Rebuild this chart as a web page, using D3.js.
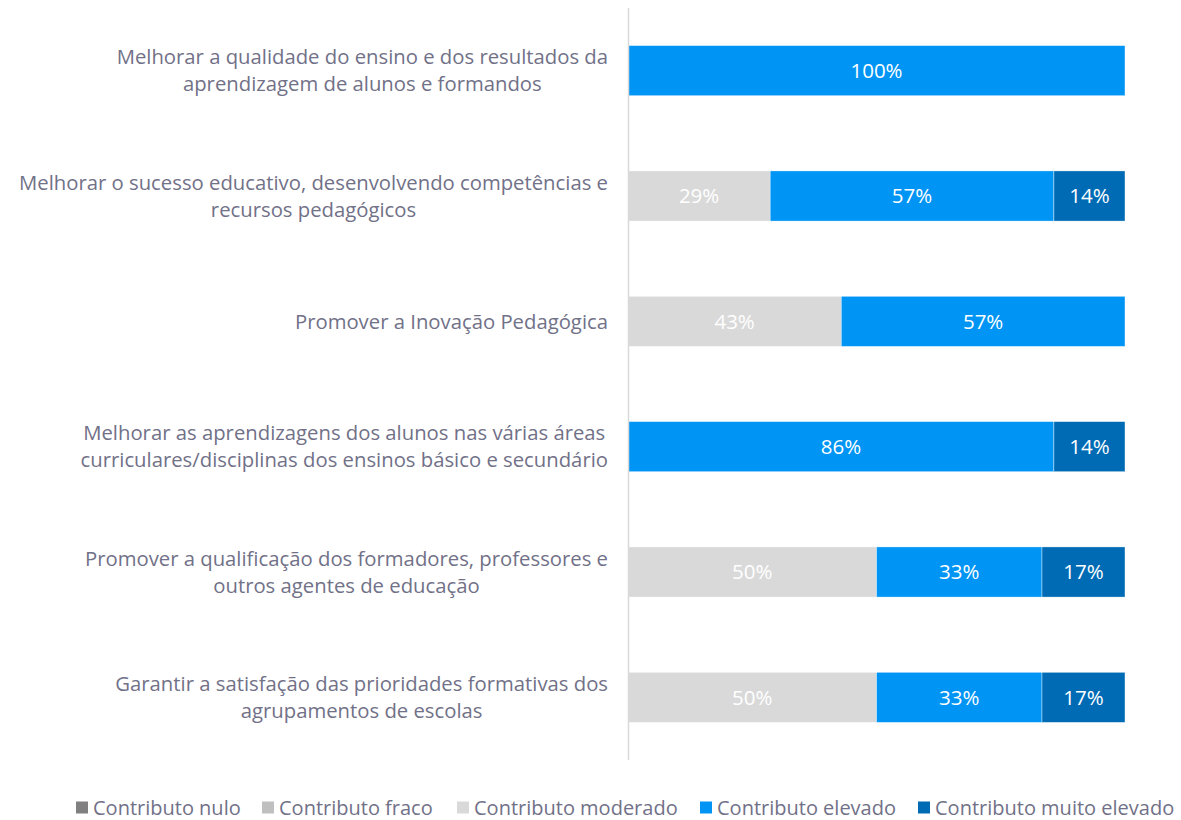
<!DOCTYPE html>
<html>
<head>
<meta charset="utf-8">
<script src="https://cdn.jsdelivr.net/npm/d3@7"></script>
<style>
  body { margin: 0; background: #fff; }
  text { font-family: "Open Sans", sans-serif; }
</style>
</head>
<body>
<svg id="chart" width="1181" height="820"></svg>
<script>
// categories (each label split into its lines)
const categories = [
  ["Melhorar a qualidade do ensino e dos resultados da", "aprendizagem de alunos e formandos"],
  ["Melhorar o sucesso educativo, desenvolvendo competências e", "recursos pedagógicos"],
  ["Promover a Inovação Pedagógica"],
  ["Melhorar as aprendizagens dos alunos nas várias áreas", "curriculares/disciplinas dos ensinos básico e secundário"],
  ["Promover a qualificação dos formadores, professores e", "outros agentes de educação"],
  ["Garantir a satisfação das prioridades formativas dos", "agrupamentos de escolas"]
];

const seriesNames = ["Contributo nulo", "Contributo fraco", "Contributo moderado", "Contributo elevado", "Contributo muito elevado"];
const seriesColors = ["#808080", "#bfbfbf", "#d9d9d9", "#0095f5", "#006bb5"];

// percentages per series, one value per category
const nulo       = [0, 0, 0, 0, 0, 0];
const fraco      = [0, 0, 0, 0, 0, 0];
const moderado   = [0, 28.6, 42.9, 0, 50, 50];
const elevado    = [100, 57.1, 57.1, 85.7, 33.3, 33.3];
const muitoElev  = [0, 14.3, 0, 14.3, 16.7, 16.7];

const svg = d3.select("#chart");

const x = d3.scaleLinear().domain([0, 100]).range([628, 1125]);
const y = d3.scaleBand().domain(d3.range(categories.length)).range([8, 760]).paddingInner(0.6).paddingOuter(0.3);

const rows = categories.map((c, i) => ({
  i: i, nulo: nulo[i], fraco: fraco[i], moderado: moderado[i], elevado: elevado[i], muito: muitoElev[i]
}));
const keys = ["nulo", "fraco", "moderado", "elevado", "muito"];
const stacked = d3.stack().keys(keys)(rows);

// bars
const layer = svg.selectAll("g.layer")
  .data(stacked)
  .enter()
  .append("g")
  .attr("class", "layer")
  .attr("fill", (d, k) => seriesColors[k]);

layer.selectAll("rect")
  .data(d => d.filter(s => s[1] - s[0] > 0))
  .enter()
  .append("rect")
  .attr("x", d => x(d[0]))
  .attr("width", d => x(d[1]) - x(d[0]))
  .attr("y", d => y(d.data.i))
  .attr("height", y.bandwidth())
  .attr("stroke", "#ffffff")
  .attr("stroke-width", 0.4);

// value labels
layer.selectAll("text")
  .data(d => d.filter(s => s[1] - s[0] > 0))
  .enter()
  .append("text")
  .attr("x", d => (x(d[0]) + x(d[1])) / 2)
  .attr("y", d => y(d.data.i) + y.bandwidth() / 2)
  .attr("dy", "0.36em")
  .attr("text-anchor", "middle")
  .attr("fill", "#ffffff")
  .style("font-size", "20.5px")
  .text(d => Math.round(d[1] - d[0]) + "%");

// vertical axis line
svg.append("line")
  .attr("x1", 628.5).attr("x2", 628.5)
  .attr("y1", 8).attr("y2", 760)
  .attr("stroke", "#d9d9d9")
  .attr("stroke-width", 1.5);

// category labels: lines centred on each other, block right-aligned at 608
const labelColor = "#717188";
categories.forEach((lines, i) => {
  const g = svg.append("g");
  const lh = 27;
  const cy = y(i) + y.bandwidth() / 2;
  const texts = lines.map((l, j) => g.append("text")
    .attr("y", cy + (j - (lines.length - 1) / 2) * lh)
    .attr("dy", "0.36em")
    .attr("text-anchor", "middle")
    .attr("fill", labelColor)
    .style("font-size", "20.3px")
    .text(l));
  const maxW = d3.max(texts, t => t.node().getComputedTextLength());
  texts.forEach(t => t.attr("x", 608 - maxW / 2));
});

// legend
const legendX = [76, 262, 457, 700, 918];
const legend = svg.selectAll("g.legend")
  .data(seriesNames)
  .enter()
  .append("g")
  .attr("class", "legend")
  .attr("transform", (d, k) => "translate(" + legendX[k] + ",807.5)");

legend.append("rect")
  .attr("x", 0).attr("y", -6)
  .attr("width", 12).attr("height", 12)
  .attr("fill", (d, k) => seriesColors[k]);

legend.append("text")
  .attr("x", 17)
  .attr("dy", "0.36em")
  .attr("fill", labelColor)
  .style("font-size", "20px")
  .text(d => d);
</script>
</body>
</html>
